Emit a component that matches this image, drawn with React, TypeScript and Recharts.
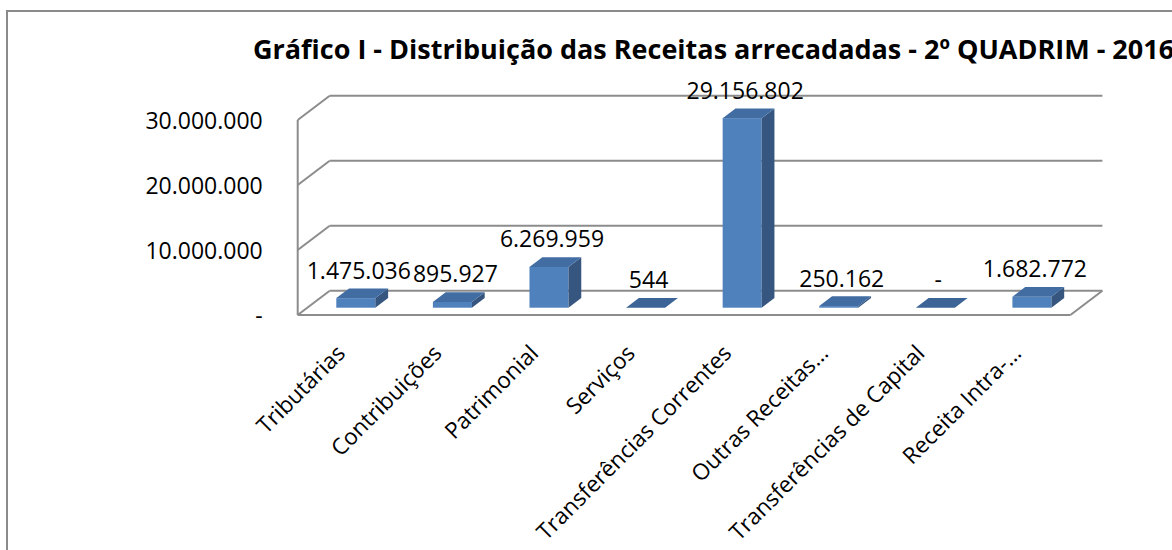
import { BarChart, Bar, XAxis, YAxis, CartesianGrid, LabelList } from 'recharts';

const categories = [
  'Tributárias',
  'Contribuições',
  'Patrimonial',
  'Serviços',
  'Transferências Correntes',
  'Outras Receitas…',
  'Transferências de Capital',
  'Receita Intra-…',
];
const receitas = [1475036, 895927, 6269959, 544, 29156802, 250162, 0, 1682772];
const yTicks = [0, 10000000, 20000000, 30000000];
const title = 'Gráfico I - Distribuição das Receitas arrecadadas - 2º QUADRIM - 2016';

const data = categories.map((name, i) => ({ name, value: receitas[i] }));

// perspective offsets, relative to the plane the bar fronts sit on
const BACK = { dx: 22.4, dy: -17 };
const FRONT = { dx: -9.6, dy: 7.3 };
const DEPTH = { dx: 12.8, dy: -9.7 };

const GRID = '#8c8c8c';
const FONT = '"Open Sans", sans-serif';

const fmt = (v: number) =>
  v === 0 ? '-' : String(v).replace(/\B(?=(\d{3})+(?!\d))/g, '.');

function GridLine3D(p: any) {
  const { x1, y1, x2, y, height } = p;
  const isBottom = Math.abs(y1 - (y + height)) < 1;
  const isTop = Math.abs(y1 - y) < 1;
  return (
    <g key={p.key} stroke={GRID} strokeWidth={2} fill="none">
      <line x1={x1 + BACK.dx} y1={y1 + BACK.dy} x2={x2 + BACK.dx} y2={y1 + BACK.dy} />
      <line x1={x1 + FRONT.dx} y1={y1 + FRONT.dy} x2={x1 + BACK.dx} y2={y1 + BACK.dy} />
      {isTop && (
        <line
          x1={x1 + FRONT.dx}
          y1={y1 + FRONT.dy}
          x2={x1 + FRONT.dx}
          y2={y + height + FRONT.dy}
        />
      )}
      {isBottom && (
        <>
          <line x1={x1 + FRONT.dx} y1={y1 + FRONT.dy} x2={x2 + FRONT.dx} y2={y1 + FRONT.dy} />
          <line x1={x2 + FRONT.dx} y1={y1 + FRONT.dy} x2={x2 + BACK.dx} y2={y1 + BACK.dy} />
        </>
      )}
    </g>
  );
}

function Bar3D(p: any) {
  const { x, y, width: w, height: h } = p;
  const { dx, dy } = DEPTH;
  return (
    <g>
      {h > 0.5 && <rect x={x} y={y} width={w} height={h} fill="#4f81bd" />}
      {h > 0.5 && (
        <polygon
          points={`${x + w},${y} ${x + w + dx},${y + dy} ${x + w + dx},${y + h + dy} ${x + w},${y + h}`}
          fill="#36557f"
        />
      )}
      <polygon
        points={`${x},${y} ${x + w},${y} ${x + w + dx},${y + dy} ${x + dx},${y + dy}`}
        fill={h > 0.5 ? '#416da3' : '#3c6496'}
      />
    </g>
  );
}

function ValueLabel(p: any) {
  const { x, y, width, value } = p;
  return (
    <text
      x={x + width / 2 + 3}
      y={y - 19.5}
      textAnchor="middle"
      fontFamily={FONT}
      fontSize={23}
      fill="#000"
    >
      {fmt(value)}
    </text>
  );
}

function CategoryTick(p: any) {
  const { x, y, payload } = p;
  const ax = x - 9;
  const ay = y + 45;
  return (
    <text
      x={ax}
      y={ay}
      textAnchor="end"
      transform={`rotate(-45 ${ax} ${ay})`}
      fontFamily={FONT}
      fontSize={22.5}
      fill="#000"
    >
      {payload.value}
    </text>
  );
}

function ValueTick(p: any) {
  const { x, y, payload } = p;
  return (
    <text
      x={x + FRONT.dx - 33}
      y={y + FRONT.dy}
      textAnchor="end"
      dominantBaseline="central"
      fontFamily={FONT}
      fontSize={23}
      fill="#000"
    >
      {fmt(payload.value)}
    </text>
  );
}

export default function App() {
  return (
    <div
      style={{
        position: 'fixed',
        left: 0,
        top: 0,
        width: 1172,
        height: 550,
        overflow: 'hidden',
        background: '#fff',
      }}
    >
      <div
        style={{
          position: 'absolute',
          left: 6,
          top: 10,
          width: 1300,
          height: 700,
          border: '2px solid #8a8a8a',
        }}
      />
      <div style={{ position: 'absolute', left: 0, top: 0 }}>
        <BarChart
          width={1172}
          height={550}
          data={data}
          margin={{ top: 112.7, right: 92, bottom: 12.3, left: 0 }}
        >
          <CartesianGrid vertical={false} horizontal={(p: any) => <GridLine3D {...p} />} />
          <XAxis
            dataKey="name"
            height={230}
            interval={0}
            tickLine={false}
            axisLine={false}
            tickSize={0}
            tick={CategoryTick}
          />
          <YAxis
            width={307.3}
            domain={[0, 30000000]}
            ticks={yTicks}
            tickLine={false}
            axisLine={false}
            tickSize={0}
            tick={ValueTick}
          />
          <Bar dataKey="value" barSize={39} shape={Bar3D} isAnimationActive={false}>
            <LabelList dataKey="value" content={ValueLabel} />
          </Bar>
        </BarChart>
      </div>
      <svg
        width={1172}
        height={550}
        style={{ position: 'absolute', left: 0, top: 0, pointerEvents: 'none' }}
      >
        <text x={253} y={59} fontFamily={FONT} fontWeight="bold" fontSize={27} fill="#000">
          {title}
        </text>
      </svg>
    </div>
  );
}
